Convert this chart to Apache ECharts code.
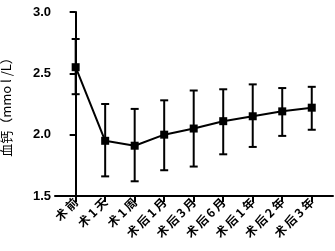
<!DOCTYPE html>
<html>
<head>
<meta charset="utf-8">
<script src="https://cdn.jsdelivr.net/npm/echarts@6/dist/echarts.min.js"></script>
<style>
  html, body { margin: 0; padding: 0; background: #fff; }
  #chart { width: 335px; height: 251px; }
</style>
</head>
<body>
<div id="chart"></div>
<script>
// categories and values
var categories = ['术前', '术1天', '术1周', '术后1月', '术后3月', '术后6月', '术后1年', '术后2年', '术后3年'];
var means = [2.55, 1.95, 1.91, 2.00, 2.05, 2.11, 2.15, 2.19, 2.22];
var upper = [2.78, 2.25, 2.21, 2.28, 2.36, 2.37, 2.41, 2.38, 2.39];
var lower = [2.33, 1.66, 1.62, 1.71, 1.74, 1.84, 1.90, 1.99, 2.04];

var font = '"Noto Sans CJK SC", "Liberation Sans", sans-serif';
var idx = categories.map(function (c, i) { return i; });

var chart = echarts.init(document.getElementById('chart'));

chart.setOption({
  animation: false,
  grid: { left: 55, right: 2, top: 12, bottom: 55, outerBoundsMode: 'none', containLabel: false },
  xAxis: {
    type: 'value',
    min: -0.7,
    max: 8.72,
    splitLine: { show: false },
    axisLine: { lineStyle: { color: '#000', width: 2 } },
    axisTick: { customValues: idx, length: 6, lineStyle: { color: '#000', width: 2 } },
    axisLabel: {
      customValues: idx,
      rotate: 45,
      margin: 4,
      color: '#000',
      fontFamily: font,
      fontWeight: 'bold',
      fontSize: 12,
      formatter: function (v) {
        // the original labels are loosely spaced
        return categories[Math.round(v)].split('').join('\u2009');
      }
    }
  },
  yAxis: {
    type: 'value',
    min: 1.5,
    max: 3.0,
    interval: 0.5,
    name: '血钙（mmo l /L）',
    nameLocation: 'middle',
    nameGap: 42,
    nameTextStyle: { color: '#000', fontFamily: font, fontSize: 13 },
    splitLine: { show: false },
    axisLine: { show: true, lineStyle: { color: '#000', width: 2 } },
    axisTick: { show: true, length: 6, lineStyle: { color: '#000', width: 2 } },
    axisLabel: {
      color: '#000',
      fontFamily: '"Liberation Sans", sans-serif',
      fontWeight: 'bold',
      fontSize: 13,
      margin: 4,
      formatter: function (v) { return v.toFixed(1); }
    }
  },
  series: [
    {
      type: 'custom',
      z: 1,
      data: idx.map(function (i) { return [i, lower[i], upper[i]]; }),
      renderItem: function (params, api) {
        var lo = api.coord([api.value(0), api.value(1)]);
        var hi = api.coord([api.value(0), api.value(2)]);
        var w = 4;
        var st = { stroke: '#000', lineWidth: 2, fill: null };
        return {
          type: 'group',
          children: [
            { type: 'line', shape: { x1: hi[0], y1: hi[1], x2: lo[0], y2: lo[1] }, style: st },
            { type: 'line', shape: { x1: hi[0] - w, y1: hi[1], x2: hi[0] + w, y2: hi[1] }, style: st },
            { type: 'line', shape: { x1: lo[0] - w, y1: lo[1], x2: lo[0] + w, y2: lo[1] }, style: st }
          ]
        };
      }
    },
    {
      type: 'line',
      z: 2,
      data: idx.map(function (i) { return [i, means[i]]; }),
      symbol: 'rect',
      symbolSize: 8,
      lineStyle: { color: '#000', width: 2 },
      itemStyle: { color: '#000' }
    }
  ]
});
</script>
</body>
</html>
